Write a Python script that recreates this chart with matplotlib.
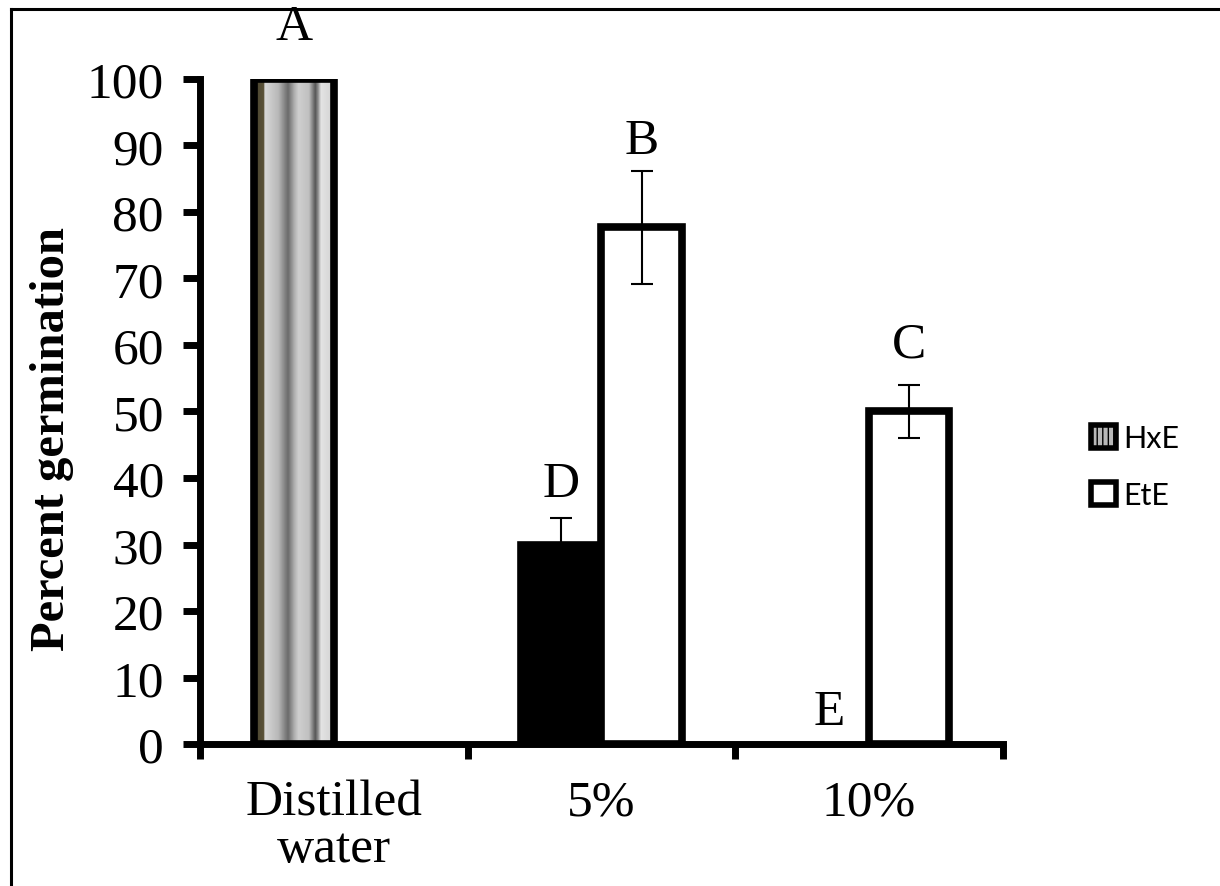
import numpy as np
import matplotlib
matplotlib.use("Agg")
import matplotlib.pyplot as plt
from matplotlib.colors import LinearSegmentedColormap
from matplotlib.patches import Patch
from matplotlib.lines import Line2D

# data
categories = ["Distilled\nwater", "5%", "10%"]
hxe = [100, 30, 0]
hxe_err = [0, 4, 0]
ete = [np.nan, 77.7, 50]
ete_err = [0, 8.5, 4]
hxe_letters = ["A", "D", "E"]
ete_letters = ["", "B", "C"]

serif = "Liberation Serif"
fs = 37

fig = plt.figure(figsize=(12.2, 8.87), dpi=100)
ax = fig.add_axes([0.164, 0.160, 0.658, 0.750])

x = np.arange(len(categories))
w = 0.3

# gradient look for the HxE bar (as in the original excel chart)
stops = [(0.0, "#4a4430"), (0.12, "#5a5238"), (0.13, "#d8d8d8"), (0.30, "#b8b8b8"),
         (0.42, "#6a6a6a"), (0.50, "#b0b0b0"), (0.55, "#cfcfcf"), (0.68, "#c0c0c0"),
         (0.76, "#555555"), (0.80, "#9a9a9a"), (0.83, "#e4e4e4"), (1.0, "#d0d0d0")]
grad = LinearSegmentedColormap.from_list("grad", stops)

hxe_bars = ax.bar(x - w / 2, hxe, w, color="black", edgecolor="black", linewidth=5.5, zorder=2)
ete_bars = ax.bar(x + w / 2, ete, w, color="white", edgecolor="black", linewidth=5.5, zorder=2)

# fill the first HxE bar with the striped gradient
b = hxe_bars[0]
b.set_facecolor("none")
img = ax.imshow(np.linspace(0, 1, 200).reshape(1, -1), cmap=grad, aspect="auto",
                extent=[b.get_x(), b.get_x() + b.get_width(), 0, b.get_height()], zorder=1.5)
img.set_clip_path(b)
hxe_bars[2].set_visible(False)

ax.errorbar(x - w / 2, hxe, yerr=hxe_err, fmt="none", ecolor="black", elinewidth=1.5,
            capsize=8, capthick=1.5, zorder=3)
ax.errorbar(x + w / 2, ete, yerr=ete_err, fmt="none", ecolor="black", elinewidth=1.5,
            capsize=8, capthick=1.5, zorder=3)

# significance letters
hxe_gap = [29, 11, 9]
ete_gap = [0, 7, 17]
for i in range(len(categories)):
    ax.annotate(hxe_letters[i], (x[i] - w / 2, hxe[i] + hxe_err[i]), xytext=(0, hxe_gap[i]),
                textcoords="offset pixels", ha="center", va="bottom", fontsize=fs,
                family=serif, annotation_clip=False)
    if ete_letters[i]:
        ax.annotate(ete_letters[i], (x[i] + w / 2, ete[i] + ete_err[i]), xytext=(0, ete_gap[i]),
                    textcoords="offset pixels", ha="center", va="bottom", fontsize=fs,
                    family=serif, annotation_clip=False)

ax.set_xlim(-0.5, 2.5)
ax.set_ylim(0, 100)
ax.set_yticks(range(0, 101, 10))
ax.set_xticks([-0.5, 0.5, 1.5, 2.5])
ax.set_xticklabels([])
ax.set_xticks(x, minor=True)
ax.set_xticklabels(categories, minor=True, fontsize=fs, family=serif, linespacing=1.0)
ax.tick_params(axis="x", which="minor", length=0, pad=25)
ax.tick_params(axis="x", which="major", length=11, width=5, direction="out")
ax.tick_params(axis="y", length=12, width=5, direction="out", pad=14)
for lab in ax.get_yticklabels():
    lab.set_fontsize(fs)
    lab.set_family(serif)

for s in ["top", "right"]:
    ax.spines[s].set_visible(False)
for s in ["left", "bottom"]:
    ax.spines[s].set_linewidth(5)
ax.set_ylabel("Percent germination", fontsize=35, family=serif, fontweight="bold")
ax.yaxis.set_label_coords(-0.157, 0.46)

handles = [Patch(facecolor="#b8b8b8", edgecolor="black", hatch="|||", linewidth=4),
           Patch(facecolor="white", edgecolor="black", linewidth=4)]
fig.legend(handles, ["HxE", "EtE"], loc="center left", bbox_to_anchor=(0.872, 0.473),
           frameon=False, prop={"family": "Lato", "size": 22}, handlelength=0.8,
           handleheight=0.8, handletextpad=0.25, labelspacing=0.95)

# border of the original picture
fig.add_artist(Line2D([0.009, 0.009], [0, 0.989], color="black", lw=2.2))
fig.add_artist(Line2D([0.009, 1], [0.989, 0.989], color="black", lw=2.2))

fig.savefig("out.png", dpi=100)
